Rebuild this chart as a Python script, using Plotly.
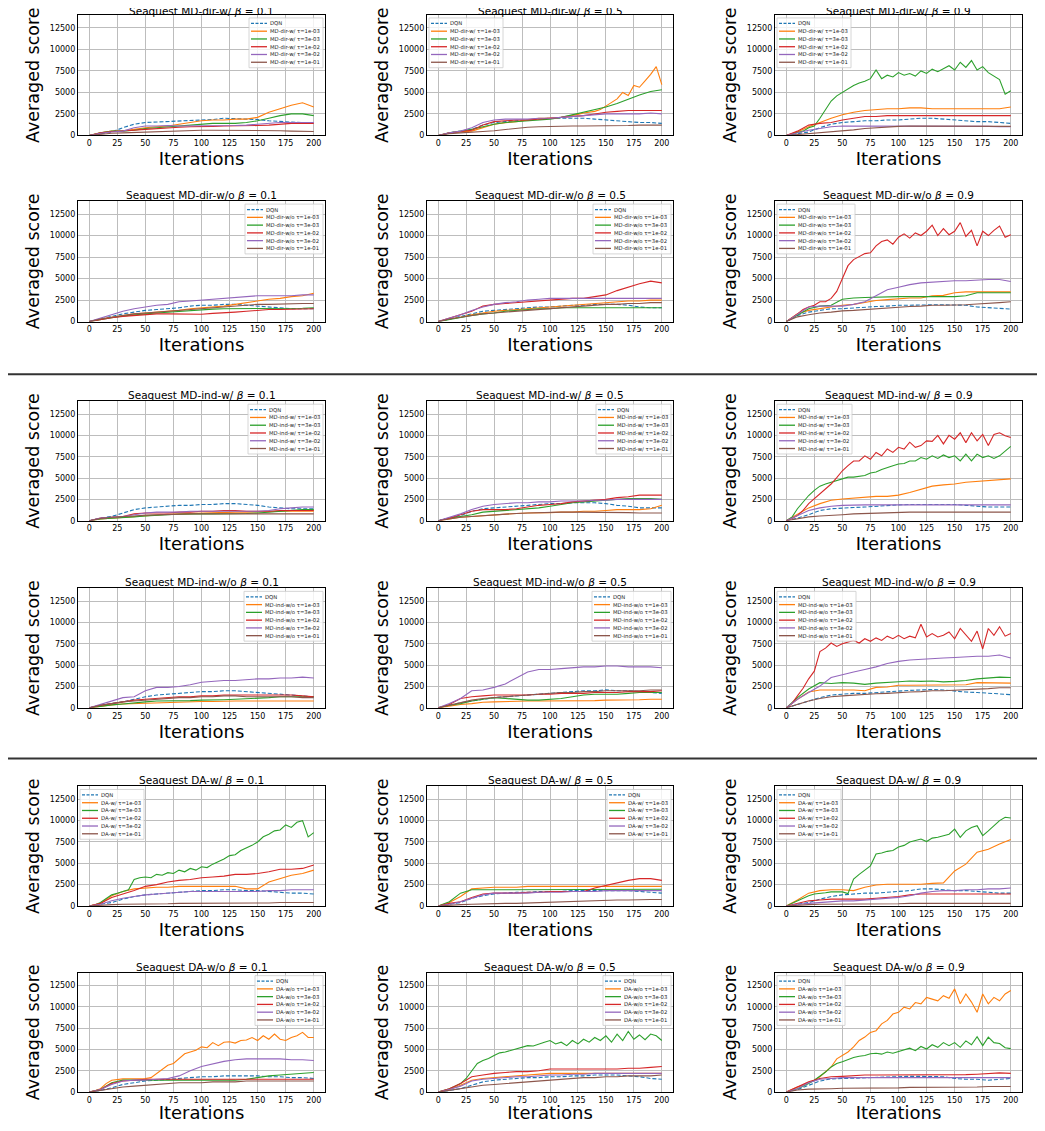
import plotly.graph_objects as go

# ---------------- data (read every 10 iterations; noisy curves every 5) ----------------
ITER = [0, 10, 20, 30, 40, 50, 60, 70, 80, 90, 100, 110, 120, 130, 140, 150, 160, 170, 180, 190, 200]
ITER5 = [0, 5, 10, 15, 20, 25, 30, 35, 40, 45, 50, 55, 60, 65, 70, 75, 80, 85, 90, 95, 100,
         105, 110, 115, 120, 125, 130, 135, 140, 145, 150, 155, 160, 165, 170, 175, 180, 185, 190, 195, 200]
X_TICKS = [0, 25, 50, 75, 100, 125, 150, 175, 200]
Y_TICKS = [0, 2500, 5000, 7500, 10000, 12500]
METHODS = ["MD-dir-w/", "MD-dir-w/o", "MD-ind-w/", "MD-ind-w/o", "DA-w/", "DA-w/o"]
BETAS = ["0.1", "0.5", "0.9"]
TAUS = ["1e-03", "3e-03", "1e-02", "3e-02", "1e-01"]

# each panel: [DQN, tau=1e-03, tau=3e-03, tau=1e-02, tau=3e-02, tau=1e-01]
MD_DIR_W_B01 = [
    [0, 200, 400, 900, 1300, 1500, 1550, 1600, 1650, 1750, 1800, 1850, 2000, 1950, 1900, 1850, 1700, 1600, 1550, 1500, 1450],
    [0, 300, 500, 550, 700, 900, 1000, 1100, 1300, 1500, 1700, 1800, 1800, 1900, 1900, 2100, 2700, 3100, 3500, 3800, 3300],
    [0, 300, 500, 500, 600, 800, 900, 1000, 1100, 1200, 1300, 1400, 1400, 1400, 1500, 1700, 2000, 2300, 2500, 2500, 2300],
    [0, 300, 450, 500, 600, 700, 800, 900, 950, 1000, 1000, 1050, 1100, 1100, 1100, 1150, 1200, 1300, 1400, 1400, 1400],
    [0, 250, 400, 500, 900, 1100, 1100, 1150, 1100, 1100, 1100, 1100, 1100, 1150, 1200, 1300, 1400, 1500, 1500, 1500, 1500],
    [0, 150, 250, 300, 350, 400, 450, 500, 550, 600, 600, 600, 600, 600, 600, 600, 550, 550, 500, 500, 450],
]
MD_DIR_W_B05 = [
    [0, 300, 500, 700, 1200, 1500, 1600, 1700, 1800, 1900, 2000, 2000, 2000, 2000, 1900, 1800, 1700, 1600, 1500, 1500, 1400],
    [0, 150, 300, 350, 400, 450, 500, 700, 900, 1100, 1300, 1400, 1500, 1550, 1600, 1700, 1800, 1900, 2000, 2000, 2000,
     2050, 2100, 2200, 2300, 2450, 2600, 2700, 2800, 3000, 3400, 3850, 4250, 5000, 4650, 5800, 5600, 6350, 7100, 8000, 5900],
    [0, 300, 500, 700, 1000, 1300, 1500, 1600, 1700, 1800, 1900, 2100, 2400, 2700, 3000, 3300, 3700, 4200, 4700, 5100, 5300],
    [0, 300, 450, 600, 1200, 1600, 1700, 1800, 1800, 1900, 2000, 2100, 2200, 2300, 2500, 2700, 2800, 2900, 2900, 2900, 2900],
    [0, 300, 500, 900, 1500, 1800, 1900, 1900, 1900, 2000, 2000, 2100, 2200, 2300, 2400, 2500, 2500, 2500, 2500, 2600, 2500],
    [0, 200, 300, 350, 450, 550, 700, 850, 950, 1000, 1050, 1100, 1100, 1100, 1100, 1150, 1150, 1150, 1200, 1200, 1200],
]
MD_DIR_W_B09 = [
    [0, 200, 400, 900, 1300, 1500, 1600, 1700, 1700, 1800, 1800, 1900, 2000, 2000, 1900, 1800, 1700, 1600, 1600, 1500, 1400],
    [0, 400, 1000, 1500, 2000, 2400, 2700, 2900, 3000, 3100, 3100, 3200, 3200, 3100, 3100, 3100, 3100, 3100, 3100, 3100, 3300],
    [0, 150, 300, 500, 900, 1100, 2000, 3000, 4000, 4600, 5000, 5500, 5800, 6100, 6300, 6600, 7600, 6600, 7000, 6800, 7300,
     7000, 7200, 6900, 7500, 7200, 7700, 7400, 7800, 8100, 7600, 8500, 7900, 8700, 7600, 8000, 7300, 6900, 6500, 4800, 5200],
    [0, 500, 1200, 1400, 1500, 1800, 2000, 2200, 2200, 2300, 2300, 2300, 2300, 2300, 2300, 2300, 2300, 2300, 2300, 2300, 2300],
    [0, 300, 600, 800, 1000, 1100, 1100, 1100, 1100, 1100, 1100, 1100, 1100, 1100, 1100, 1100, 1100, 1100, 1050, 1000, 1000],
    [0, 100, 200, 300, 400, 500, 650, 800, 900, 1000, 1050, 1100, 1100, 1100, 1100, 1100, 1100, 1100, 1100, 1050, 1050],
]
MD_DIR_WO_B01 = [
    [0, 300, 600, 900, 1100, 1300, 1400, 1500, 1600, 1800, 1900, 1900, 2000, 2000, 1900, 1800, 1700, 1600, 1500, 1500, 1500],
    [0, 300, 500, 700, 900, 1000, 1100, 1200, 1300, 1500, 1600, 1700, 1800, 2000, 2200, 2400, 2600, 2700, 2900, 3000, 3300],
    [0, 250, 450, 650, 800, 900, 1000, 1100, 1200, 1300, 1400, 1450, 1500, 1500, 1500, 1500, 1500, 1500, 1500, 1550, 1600],
    [0, 250, 450, 600, 700, 800, 900, 900, 900, 850, 850, 950, 1000, 1100, 1200, 1300, 1400, 1400, 1450, 1500, 1500],
    [0, 400, 800, 1200, 1500, 1700, 1900, 2000, 2300, 2400, 2500, 2600, 2700, 2800, 2900, 3000, 3000, 3000, 3000, 3100, 3100],
    [0, 300, 500, 700, 900, 1000, 1100, 1200, 1300, 1400, 1500, 1600, 1700, 1800, 1900, 2000, 2000, 2050, 2100, 2100, 2100],
]
MD_DIR_WO_B05 = [
    [0, 300, 600, 900, 1200, 1300, 1400, 1500, 1600, 1700, 1700, 1800, 1900, 1900, 2000, 2000, 2000, 1900, 1700, 1600, 1600],
    [0, 300, 500, 800, 1000, 1200, 1300, 1400, 1500, 1600, 1700, 1800, 1900, 2000, 2100, 2200, 2300, 2400, 2400, 2500, 2500],
    [0, 250, 500, 700, 900, 1000, 1200, 1300, 1400, 1500, 1500, 1600, 1600, 1600, 1600, 1600, 1600, 1600, 1600, 1600, 1600],
    [0, 400, 800, 1200, 1800, 2000, 2100, 2200, 2300, 2400, 2500, 2600, 2700, 2700, 2900, 3100, 3600, 4000, 4400, 4700, 4500],
    [0, 400, 800, 1300, 1700, 2000, 2200, 2300, 2500, 2600, 2700, 2700, 2700, 2700, 2700, 2700, 2700, 2700, 2700, 2700, 2700],
    [0, 300, 500, 700, 900, 1000, 1100, 1200, 1300, 1400, 1500, 1600, 1700, 1800, 1900, 2000, 2000, 2100, 2100, 2200, 2200],
]
MD_DIR_WO_B09 = [
    [0, 700, 1100, 1300, 1500, 1500, 1600, 1650, 1750, 1800, 1900, 1900, 1950, 1950, 1950, 1950, 1900, 1700, 1600, 1500, 1450],
    [0, 900, 1300, 1500, 1700, 1900, 2000, 2200, 2450, 2550, 2650, 2750, 2750, 3000, 3050, 3350, 3450, 3450, 3450, 3450, 3450],
    [0, 700, 1500, 1800, 1900, 2600, 2750, 2800, 2850, 2850, 2900, 2900, 2900, 2900, 2900, 2900, 3000, 3350, 3350, 3350, 3350],
    [0, 400, 900, 1400, 1700, 1900, 2300, 2300, 2700, 3500, 5000, 6500, 7200, 7600, 7900, 8000, 8800, 9300, 9500, 9000, 9800,
     10200, 9700, 10300, 10000, 10500, 11200, 10000, 10800, 10100, 10500, 11500, 9900, 10600, 8800, 10500, 10000, 10600, 11100, 9800, 10100],
    [0, 900, 1700, 1800, 1800, 1800, 2000, 2300, 3000, 3700, 4000, 4300, 4500, 4600, 4650, 4750, 4750, 4850, 4900, 4900, 4650],
    [0, 550, 800, 1000, 1100, 1250, 1300, 1400, 1500, 1600, 1650, 1750, 1800, 1900, 1900, 1900, 1950, 2050, 2100, 2200, 2300],
]
MD_IND_W_B01 = [
    [0, 300, 500, 900, 1300, 1500, 1600, 1700, 1800, 1800, 1900, 1900, 2000, 2000, 1900, 1800, 1600, 1500, 1400, 1400, 1400],
    [0, 200, 300, 400, 500, 600, 700, 750, 800, 850, 900, 900, 950, 1000, 1000, 1000, 1050, 1100, 1100, 1100, 1100],
    [0, 200, 300, 350, 450, 550, 650, 700, 750, 800, 800, 800, 800, 800, 850, 900, 1000, 1100, 1200, 1300, 1300],
    [0, 300, 400, 500, 800, 900, 900, 900, 1000, 1000, 1100, 1100, 1200, 1200, 1100, 1100, 1100, 1200, 1200, 1200, 1200],
    [0, 300, 400, 500, 700, 900, 1000, 1000, 1000, 1100, 1100, 1100, 1100, 1100, 1100, 1100, 1200, 1400, 1500, 1600, 1600],
    [0, 250, 400, 450, 550, 650, 700, 750, 750, 800, 800, 800, 800, 800, 800, 800, 800, 800, 800, 800, 800],
]
MD_IND_W_B05 = [
    [0, 300, 600, 1100, 1400, 1500, 1600, 1700, 1800, 1900, 2000, 2000, 2100, 2100, 2100, 2000, 1800, 1700, 1500, 1500, 1500],
    [0, 200, 400, 500, 600, 700, 800, 850, 900, 900, 950, 1000, 1000, 1100, 1100, 1200, 1300, 1300, 1300, 1400, 1800],
    [0, 300, 500, 700, 1000, 1100, 1200, 1300, 1400, 1500, 1700, 1900, 2100, 2200, 2300, 2400, 2500, 2600, 2600, 2600, 2500],
    [0, 300, 700, 1100, 1300, 1300, 1300, 1400, 1600, 1800, 1900, 2000, 2200, 2300, 2400, 2500, 2700, 2800, 3000, 3000, 3000],
    [0, 400, 800, 1300, 1700, 1900, 2000, 2100, 2100, 2200, 2200, 2300, 2300, 2300, 2400, 2400, 2500, 2500, 2500, 2500, 2500],
    [0, 200, 400, 500, 600, 700, 800, 850, 900, 950, 1000, 1000, 1000, 1000, 1000, 1000, 1000, 950, 900, 900, 900],
]
MD_IND_W_B09 = [
    [0, 300, 700, 1200, 1400, 1500, 1550, 1600, 1700, 1800, 1850, 1900, 1900, 1900, 1900, 1900, 1800, 1700, 1600, 1600, 1600],
    [0, 800, 1500, 2000, 2400, 2550, 2650, 2750, 2850, 2850, 3000, 3300, 3700, 4050, 4200, 4300, 4500, 4600, 4700, 4800, 4900],
    [0, 400, 1400, 2150, 2950, 3550, 4050, 4300, 4500, 4700, 4900, 5100, 5100, 5200, 5300, 5600, 5700, 6000, 6250, 6450, 6650,
     6700, 7000, 7000, 7400, 7200, 7600, 7300, 7700, 7400, 7600, 7000, 7800, 7000, 7800, 7400, 7600, 7300, 7600, 8200, 8700],
    [0, 250, 600, 1200, 2000, 2550, 3100, 3700, 4300, 5050, 5850, 6450, 7000, 7000, 7600, 7200, 8000, 7600, 8400, 8000, 8600,
     8400, 9200, 8600, 8800, 9350, 9300, 10000, 9000, 10000, 9550, 10300, 9150, 10300, 9350, 10100, 8800, 10100, 10300, 9950, 9750],
    [0, 600, 1200, 1500, 1700, 1800, 1850, 1850, 1850, 1850, 1850, 1850, 1850, 1850, 1850, 1850, 1850, 1850, 1850, 1850, 1850],
    [0, 250, 450, 550, 600, 700, 800, 850, 900, 950, 1000, 1000, 1000, 1000, 1000, 1000, 1000, 1000, 1000, 1000, 1000],
]
MD_IND_WO_B01 = [
    [0, 300, 500, 700, 1000, 1300, 1500, 1600, 1700, 1800, 1900, 1900, 2000, 2000, 1900, 1800, 1700, 1600, 1500, 1400, 1300],
    [0, 200, 350, 450, 500, 550, 600, 650, 700, 700, 750, 750, 800, 800, 800, 800, 800, 800, 800, 800, 800],
    [0, 200, 350, 450, 600, 700, 800, 800, 850, 850, 900, 900, 950, 1000, 1050, 1100, 1200, 1300, 1300, 1300, 1300],
    [0, 300, 500, 700, 900, 1000, 1100, 1200, 1300, 1300, 1400, 1400, 1500, 1500, 1500, 1500, 1500, 1500, 1500, 1400, 1300],
    [0, 400, 800, 1200, 1300, 2000, 2400, 2400, 2500, 2700, 3000, 3100, 3200, 3200, 3300, 3400, 3400, 3500, 3500, 3600, 3500],
    [0, 300, 500, 700, 800, 900, 1000, 1100, 1200, 1200, 1300, 1300, 1400, 1400, 1300, 1300, 1300, 1300, 1300, 1200, 1200],
]
MD_IND_WO_B05 = [
    [0, 300, 600, 800, 1000, 1200, 1300, 1400, 1500, 1600, 1700, 1800, 1900, 2000, 2000, 2100, 2000, 2000, 1900, 1800, 1700],
    [0, 200, 400, 500, 650, 700, 750, 800, 800, 800, 800, 800, 850, 850, 850, 900, 900, 950, 950, 1000, 1000],
    [0, 300, 500, 800, 1000, 1200, 1100, 1000, 900, 900, 1000, 1100, 1300, 1500, 1600, 1600, 1600, 1700, 1800, 1800, 1800],
    [0, 400, 1100, 1300, 1400, 1500, 1500, 1500, 1500, 1600, 1600, 1700, 1700, 1700, 1800, 1800, 1800, 1900, 1900, 1900, 2000],
    [0, 500, 1100, 2000, 2100, 2400, 2800, 3500, 4200, 4500, 4500, 4600, 4700, 4800, 4800, 4900, 4900, 4800, 4800, 4800, 4700],
    [0, 300, 600, 900, 1100, 1200, 1300, 1400, 1500, 1600, 1700, 1800, 1800, 1900, 1900, 2000, 2000, 2000, 2000, 2100, 2100],
]
MD_IND_WO_B09 = [
    [0, 400, 800, 1200, 1500, 1600, 1700, 1700, 1800, 1850, 1950, 2050, 2100, 2150, 2100, 1950, 1850, 1800, 1700, 1600, 1550],
    [0, 1000, 1850, 2100, 2100, 2100, 2100, 2000, 2400, 2450, 2650, 2650, 2650, 2650, 2650, 2650, 2700, 2950, 2950, 2950, 2900],
    [0, 1200, 2200, 2950, 2850, 2950, 2900, 2750, 2900, 2950, 3050, 3150, 3100, 3150, 3050, 3100, 3200, 3400, 3500, 3600, 3550],
    [0, 500, 1400, 2300, 3400, 4300, 6600, 7000, 7600, 7200, 7500, 7700, 7900, 7600, 8100, 7800, 8200, 7900, 8400, 8100, 8500,
     8100, 8400, 8200, 9800, 8300, 8700, 8300, 8500, 8900, 8100, 9300, 8600, 7800, 9000, 6900, 9300, 8500, 9500, 8400, 8700],
    [0, 1000, 1800, 2550, 3550, 3900, 4200, 4500, 4800, 5200, 5450, 5600, 5700, 5750, 5850, 5900, 6000, 6050, 6050, 6200, 5850],
    [0, 400, 800, 1100, 1300, 1400, 1500, 1550, 1650, 1700, 1800, 1850, 1900, 2000, 2000, 2050, 2100, 2200, 2250, 2350, 2350],
]
DA_W_B01 = [
    [0, 200, 400, 800, 1100, 1300, 1400, 1500, 1600, 1700, 1800, 1800, 1900, 1900, 1800, 1800, 1700, 1600, 1500, 1500, 1400],
    [0, 300, 1200, 1700, 2000, 2100, 2200, 2200, 2300, 2300, 2300, 2300, 2300, 2300, 2000, 2000, 2800, 3200, 3600, 3800, 4200],
    [0, 100, 400, 900, 1300, 1500, 1700, 1900, 3100, 3300, 3400, 3300, 3700, 3600, 3900, 3800, 4200, 4000, 4400, 4200, 4600,
     4500, 4900, 5200, 5500, 5900, 6000, 6500, 6800, 7100, 7500, 8100, 8400, 8800, 8900, 9500, 9200, 9800, 10000, 8100, 8600],
    [0, 300, 1000, 1400, 1800, 2300, 2500, 2800, 3000, 3100, 3300, 3400, 3500, 3700, 3700, 3800, 4000, 4300, 4300, 4400, 4800],
    [0, 200, 600, 900, 1100, 1300, 1400, 1500, 1600, 1700, 1700, 1700, 1700, 1700, 1700, 1700, 1800, 1800, 1900, 1900, 1900],
    [0, 100, 150, 200, 200, 250, 250, 250, 300, 300, 300, 300, 300, 350, 350, 350, 350, 400, 400, 400, 400],
]
DA_W_B05 = [
    [0, 200, 400, 900, 1200, 1400, 1500, 1600, 1600, 1700, 1700, 1700, 1800, 1800, 1800, 1800, 1800, 1800, 1700, 1600, 1500],
    [0, 400, 1100, 2000, 2100, 2200, 2200, 2200, 2300, 2300, 2300, 2300, 2300, 2300, 2300, 2300, 2300, 2300, 2300, 2300, 2300],
    [0, 500, 1500, 1900, 1900, 1900, 1900, 1900, 1900, 1900, 1900, 1900, 1900, 1900, 1900, 1900, 1900, 1950, 1950, 1950, 1950],
    [0, 300, 500, 1000, 1400, 1500, 1500, 1500, 1600, 1600, 1700, 1700, 1700, 1700, 2100, 2400, 2700, 3000, 3200, 3200, 3000],
    [0, 200, 500, 900, 1300, 1500, 1500, 1500, 1500, 1600, 1600, 1600, 1700, 1700, 1700, 1800, 1800, 1800, 1800, 1800, 1800],
    [0, 100, 150, 200, 250, 250, 300, 300, 350, 400, 450, 450, 500, 550, 600, 650, 700, 700, 750, 750, 750],
]
DA_W_B09 = [
    [0, 200, 400, 800, 1100, 1300, 1400, 1500, 1500, 1600, 1700, 1800, 2000, 2000, 1900, 1800, 1800, 1700, 1600, 1500, 1500],
    [0, 700, 1500, 1800, 1900, 1900, 1800, 2200, 2450, 2550, 2550, 2550, 2550, 2650, 2700, 4100, 4900, 6300, 6650, 7250, 7800],
    [0, 300, 600, 900, 1200, 1400, 1450, 1550, 1650, 1650, 1650, 1450, 3150, 3700, 4250, 4700, 6100, 6200, 6400, 6500, 6900,
     7100, 7500, 7650, 7850, 7550, 7950, 8050, 8250, 8400, 9000, 8050, 8800, 9200, 9400, 8250, 8800, 9400, 10000, 10400, 10300],
    [0, 300, 600, 700, 800, 800, 800, 800, 900, 1000, 1100, 1300, 1400, 1400, 1400, 1400, 1400, 1400, 1400, 1400, 1400],
    [0, 200, 300, 400, 500, 600, 600, 700, 800, 900, 1000, 1200, 1500, 1700, 1800, 1800, 1900, 1900, 2000, 2000, 2100],
    [0, 100, 150, 200, 200, 250, 250, 250, 250, 250, 250, 300, 300, 300, 300, 300, 300, 300, 300, 300, 300],
]
DA_WO_B01 = [
    [0, 200, 500, 900, 1100, 1300, 1400, 1500, 1600, 1700, 1800, 1800, 1900, 1900, 1900, 1900, 1800, 1800, 1700, 1700, 1600],
    [0, 150, 400, 1000, 1400, 1500, 1550, 1550, 1550, 1600, 1600, 1700, 2200, 2600, 3150, 3350, 3950, 4500, 4700, 4900, 5300,
     5200, 5800, 5450, 5850, 5900, 5750, 6050, 6100, 6400, 6050, 6600, 6200, 6800, 6200, 6050, 6400, 6600, 7000, 6400, 6400],
    [0, 300, 1100, 1400, 1400, 1400, 1400, 1400, 1400, 1400, 1400, 1400, 1400, 1400, 1500, 1700, 1900, 2000, 2100, 2200, 2300],
    [0, 300, 1000, 1300, 1400, 1500, 1500, 1500, 1500, 1500, 1500, 1500, 1500, 1500, 1500, 1500, 1500, 1500, 1500, 1500, 1500],
    [0, 300, 900, 1300, 1400, 1400, 1500, 1600, 1900, 2500, 3000, 3300, 3600, 3800, 3900, 3900, 3900, 3900, 3800, 3800, 3700],
    [0, 200, 400, 600, 700, 800, 900, 1000, 1100, 1100, 1100, 1200, 1200, 1200, 1300, 1300, 1300, 1300, 1300, 1300, 1300],
]
DA_WO_B05 = [
    [0, 200, 400, 800, 1200, 1400, 1500, 1600, 1700, 1700, 1800, 1800, 1900, 1900, 2000, 2000, 2000, 1900, 1800, 1600, 1500],
    [0, 300, 800, 1400, 1600, 1700, 1800, 1900, 2000, 2100, 2200, 2200, 2200, 2200, 2200, 2200, 2200, 2200, 2200, 2200, 2200],
    [0, 200, 400, 700, 1000, 1600, 2550, 3350, 3700, 3950, 4300, 4600, 4700, 4900, 5050, 5250, 5450, 5400, 5650, 5850, 6050,
     5650, 5850, 5450, 6050, 5650, 6200, 5850, 6400, 6050, 6600, 5850, 6800, 6050, 7100, 6200, 6700, 6150, 6800, 6600, 6050],
    [0, 400, 1000, 1800, 2000, 2200, 2300, 2400, 2400, 2500, 2700, 2700, 2700, 2700, 2700, 2700, 2700, 2800, 2800, 2900, 3000],
    [0, 300, 700, 1300, 1500, 1600, 1700, 1800, 1800, 1900, 2000, 2000, 2100, 2100, 2200, 2200, 2200, 2200, 2200, 2200, 2200],
    [0, 200, 400, 600, 800, 900, 1000, 1100, 1200, 1300, 1400, 1500, 1600, 1700, 1700, 1800, 1800, 1900, 1900, 1900, 2000],
]
DA_WO_B09 = [
    [0, 300, 800, 1300, 1550, 1600, 1650, 1700, 1700, 1800, 1800, 1850, 1850, 1800, 1800, 1600, 1500, 1500, 1400, 1500, 1600],
    [0, 300, 600, 800, 1100, 1400, 1800, 2400, 2950, 3900, 4300, 4700, 5300, 6050, 6450, 7000, 7200, 8000, 8400, 9150, 9350,
     9950, 9750, 10500, 10350, 11100, 10900, 10700, 11300, 11000, 12100, 10350, 11500, 10550, 9350, 11500, 10350, 11100, 10700, 11500, 11900],
    [0, 200, 400, 700, 1000, 1400, 1850, 2350, 2950, 3350, 3550, 3800, 4050, 4200, 4300, 4500, 4550, 4450, 4700, 4550, 4750,
     4900, 5150, 4850, 5350, 5050, 5550, 5250, 5800, 5450, 5800, 5250, 6000, 5550, 6500, 5450, 6450, 5800, 5700, 5200, 5100],
    [0, 600, 1200, 1600, 1800, 1850, 1950, 2000, 2000, 2000, 2000, 2050, 2050, 2050, 2050, 2050, 2050, 2100, 2200, 2250, 2200],
    [0, 400, 1100, 1500, 1600, 1700, 1700, 1700, 1700, 1700, 1700, 1700, 1700, 1700, 1700, 1700, 1700, 1700, 1700, 1700, 1700],
    [0, 250, 350, 350, 400, 450, 450, 450, 500, 500, 500, 550, 550, 550, 600, 600, 600, 600, 650, 650, 650],
]

PANELS = [
    [MD_DIR_W_B01, MD_DIR_W_B05, MD_DIR_W_B09],
    [MD_DIR_WO_B01, MD_DIR_WO_B05, MD_DIR_WO_B09],
    [MD_IND_W_B01, MD_IND_W_B05, MD_IND_W_B09],
    [MD_IND_WO_B01, MD_IND_WO_B05, MD_IND_WO_B09],
    [DA_W_B01, DA_W_B05, DA_W_B09],
    [DA_WO_B01, DA_WO_B05, DA_WO_B09],
]
LEGEND_SIDE = [["r", "l", "l"], ["r", "r", "l"], ["r", "r", "l"],
               ["r", "r", "l"], ["l", "r", "l"], ["r", "r", "l"]]

# ---------------- styling / geometry ----------------
COLORS = ["#1f77b4", "#ff7f0e", "#2ca02c", "#d62728", "#9467bd", "#8c564b"]
FONT = "DejaVu Sans"
OFF = 8                    # page body margin
W, H = 1045 - 2 * OFF, 1131 - 2 * OFF


def fx(px):
    return (px - OFF) / W


def fy(py):
    return 1 - (py - OFF) / H


COLS = [(78, 325), (427, 673), (775, 1022)]
ROWS = [(15, 136), (202, 323), (403, 523), (591, 711), (790, 910), (977, 1097)]
LEG_W = {"MD-dir-w/": 74, "MD-dir-w/o": 78, "MD-ind-w/": 75, "MD-ind-w/o": 79, "DA-w/": 64, "DA-w/o": 68}

fig = go.Figure()
layout = {}
annotations = []
shapes = []

for r in range(6):
    method = METHODS[r]
    labels = ["DQN"] + [f"{method} τ={t}" for t in TAUS]
    for c in range(3):
        k = r * 3 + c + 1
        sfx = "" if k == 1 else str(k)
        xa, ya = f"x{sfx}", f"y{sfx}"
        x0, x1 = COLS[c]
        y0, y1 = ROWS[r]
        data = PANELS[r][c]
        for s in range(6):
            xs = ITER5 if len(data[s]) == len(ITER5) else ITER
            fig.add_trace(go.Scatter(
                x=xs, y=data[s], xaxis=xa, yaxis=ya, mode="lines", name=labels[s],
                showlegend=False,
                line=dict(color=COLORS[s], width=1.1, dash="4px,2px" if s == 0 else "solid"),
            ))
        common = dict(showline=True, linecolor="black", linewidth=1.2, mirror=True,
                      showgrid=True, gridcolor="#bdbdbd", gridwidth=1, zeroline=False,
                      ticks="", tickfont=dict(family=FONT, size=8, color="black"))
        layout[f"xaxis{sfx}"] = dict(
            domain=[fx(x0), fx(x1)], anchor=ya, range=[-10, 210], tickvals=X_TICKS,
            title=dict(text="Iterations", font=dict(family=FONT, size=18, color="black"), standoff=2),
            **common)
        layout[f"yaxis{sfx}"] = dict(
            domain=[fy(y1), fy(y0)], anchor=xa, range=[0, 14000], tickvals=Y_TICKS, tickformat="d",
            title=dict(text="Averaged score", font=dict(family=FONT, size=17.5, color="black"), standoff=5),
            **common)
        # panel title (top row nudged down so it stays inside the page)
        annotations.append(dict(
            text=f"Seaquest {method} <i>β</i> = {BETAS[c]}", x=fx((x0 + x1) / 2), y=fy(y0),
            xref="paper", yref="paper", xanchor="center", yanchor="bottom", showarrow=False,
            borderpad=0, font=dict(family=FONT, size=10.5, color="black"),
            yshift=-3 if r == 0 else -1))
        # legend box
        lw = LEG_W[method]
        bx0 = x1 - 2 - lw if LEGEND_SIDE[r][c] == "r" else x0 + 2
        bx1 = bx0 + lw
        by0 = y0 + 3
        by1 = by0 + 50
        shapes.append(dict(type="rect", xref="paper", yref="paper", x0=fx(bx0), x1=fx(bx1),
                           y0=fy(by1), y1=fy(by0), line=dict(color="#cccccc", width=0.8),
                           fillcolor="rgba(255,255,255,0.8)", layer="above"))
        for s in range(6):
            cy = by0 + 5.5 + 7.8 * s
            shapes.append(dict(type="line", xref="paper", yref="paper", x0=fx(bx0 + 2), x1=fx(bx0 + 18),
                               y0=fy(cy), y1=fy(cy), layer="above",
                               line=dict(color=COLORS[s], width=1.3, dash="3px,1.5px" if s == 0 else "solid")))
            annotations.append(dict(
                text=labels[s], x=fx(bx0 + 20), y=fy(cy), xref="paper", yref="paper",
                xanchor="left", yanchor="middle", showarrow=False, borderpad=0,
                font=dict(family=FONT, size=5.3, color="#222222")))

# section separator lines
for py in (376, 762):
    shapes.append(dict(type="line", xref="paper", yref="paper", x0=0, x1=1,
                       y0=fy(py), y1=fy(py), line=dict(color="#333333", width=2)))

fig.update_layout(
    width=W, height=H, margin=dict(l=0, r=0, t=0, b=0),
    paper_bgcolor="white", plot_bgcolor="white",
    font=dict(family=FONT, color="black"),
    annotations=annotations, shapes=shapes, showlegend=False,
    **layout,
)

fig.write_html("out.html")
